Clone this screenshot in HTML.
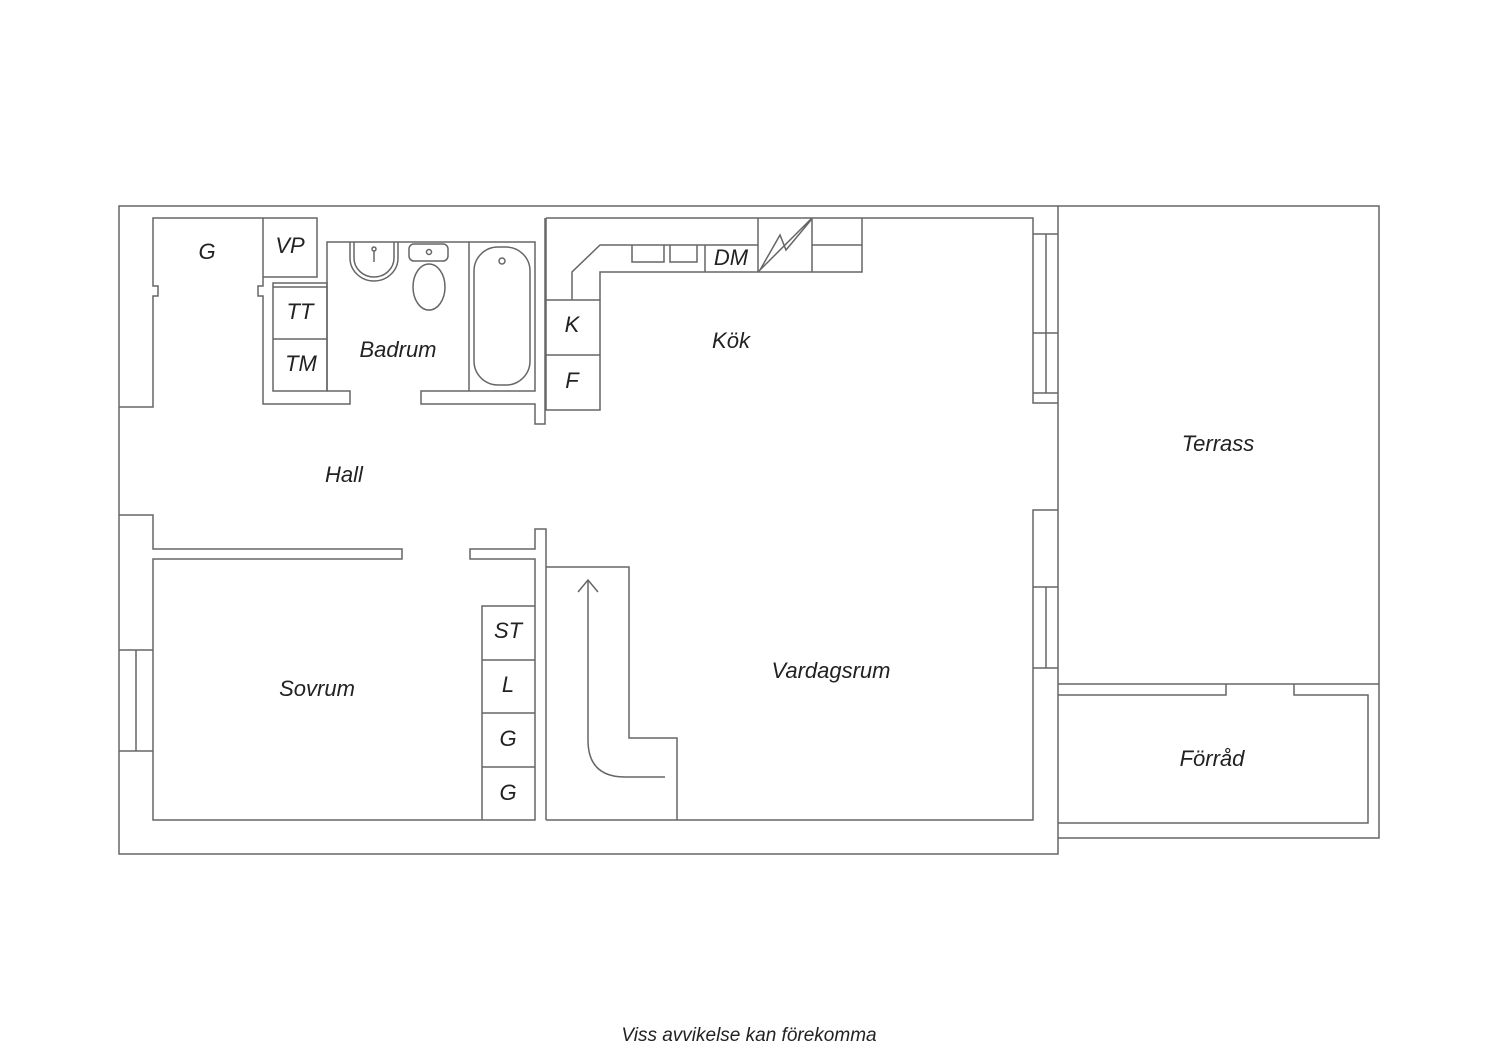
<!DOCTYPE html>
<html><head><meta charset="utf-8"><style>
html,body{margin:0;padding:0;background:#fff;}
svg{display:block}
text{font-family:"Liberation Sans",sans-serif;font-style:italic;fill:#222;text-anchor:middle;dominant-baseline:middle;}
</style></head><body>
<svg width="1500" height="1060" viewBox="0 0 1500 1060" xmlns="http://www.w3.org/2000/svg">
<g fill="none" stroke="#666" stroke-width="1.5">
<!-- outer -->
<path d="M119,206 H1058 V854 H119 Z"/>
<path d="M1058,206 H1379 V838 H1058"/>
<path d="M1058,684 H1379"/>
<path d="M1058,695 H1226 V684 M1294,684 V695 H1368 V823 H1058"/>
<!-- east wall / windows -->
<path d="M546,218 H1033 V403 H1058"/>
<path d="M1033,234 H1058 M1033,333 H1058 M1033,393 H1058 M1046,234 V393"/>
<path d="M1058,510 H1033 V820 H546"/>
<path d="M1033,587 H1058 M1033,668 H1058 M1046,587 V668"/>
<!-- G closet -->
<path d="M119,407 H153 V296 H158 V286 H153 V218 H263 V286 H258 V296 H263 V404 H350 V391 H327"/>
<path d="M263,218 H317 V277 H263"/>
<path d="M273,391 V283 H327 V391 Z M273,287 H327 M273,339 H327"/>
<!-- bathroom -->
<path d="M327,391 V242 H535 V391 H421 V404 H535 V424 H545 V218"/>
<path d="M469,242 V391"/>
<rect x="474" y="247" width="56" height="138" rx="24"/>
<circle cx="502" cy="261" r="3"/>
<path d="M350,242 V258 A24,23 0 0 0 398,258 V242"/>
<path d="M354,242 V258 A20,19 0 0 0 394,258 V242"/>
<circle cx="374" cy="249" r="2"/>
<path d="M374,251 V262"/>
<rect x="409" y="244" width="39" height="17" rx="5"/>
<circle cx="429" cy="252" r="2.5"/>
<ellipse cx="429" cy="287" rx="16" ry="23"/>
<!-- kitchen -->
<path d="M546,218 V410 H600 V300 H546 M546,355 H600"/>
<path d="M572,300 V272 L600,245 H758 M600,300 V272 H862 V218 M812,218 V272 M758,218 V272 M812,245 H862"/>
<path d="M705,245 V272"/>
<path d="M632,245 V262 H664 V245 M670,245 V262 H697 V245"/>
<path d="M758,272 L812,218 M760,270 L780,235 L786,250 L811,220"/>
<!-- hall / sovrum -->
<path d="M119,515 H153 V549 H402 V559 H153 V820 H535 V559 H470 V549 H535 V529 H546 V820"/>
<path d="M119,650 H153 M119,751 H153 M136,650 V751"/>
<path d="M482,820 V606 H535 M482,660 H535 M482,713 H535 M482,767 H535"/>
<!-- stairs -->
<path d="M546,567 H629 V738 H677 V820"/>
<path d="M588,580 V740 Q588,777 625,777 H665"/>
<path d="M578,592 L588,580 L598,592"/>
</g>
<g font-size="22">
<text x="207" y="253">G</text>
<text x="290" y="247">VP</text>
<text x="300" y="313">TT</text>
<text x="301" y="365">TM</text>
<text x="398" y="351">Badrum</text>
<text x="731" y="259">DM</text>
<text x="572" y="326">K</text>
<text x="572" y="382">F</text>
<text x="731" y="342">Kök</text>
<text x="344" y="476">Hall</text>
<text x="1218" y="445">Terrass</text>
<text x="317" y="690">Sovrum</text>
<text x="508" y="632">ST</text>
<text x="508" y="686">L</text>
<text x="508" y="740">G</text>
<text x="508" y="794">G</text>
<text x="831" y="672">Vardagsrum</text>
<text x="1212" y="760">Förråd</text>
</g>
<text x="749" y="1036" font-size="19">Viss avvikelse kan förekomma</text>
</svg>
</body></html>
